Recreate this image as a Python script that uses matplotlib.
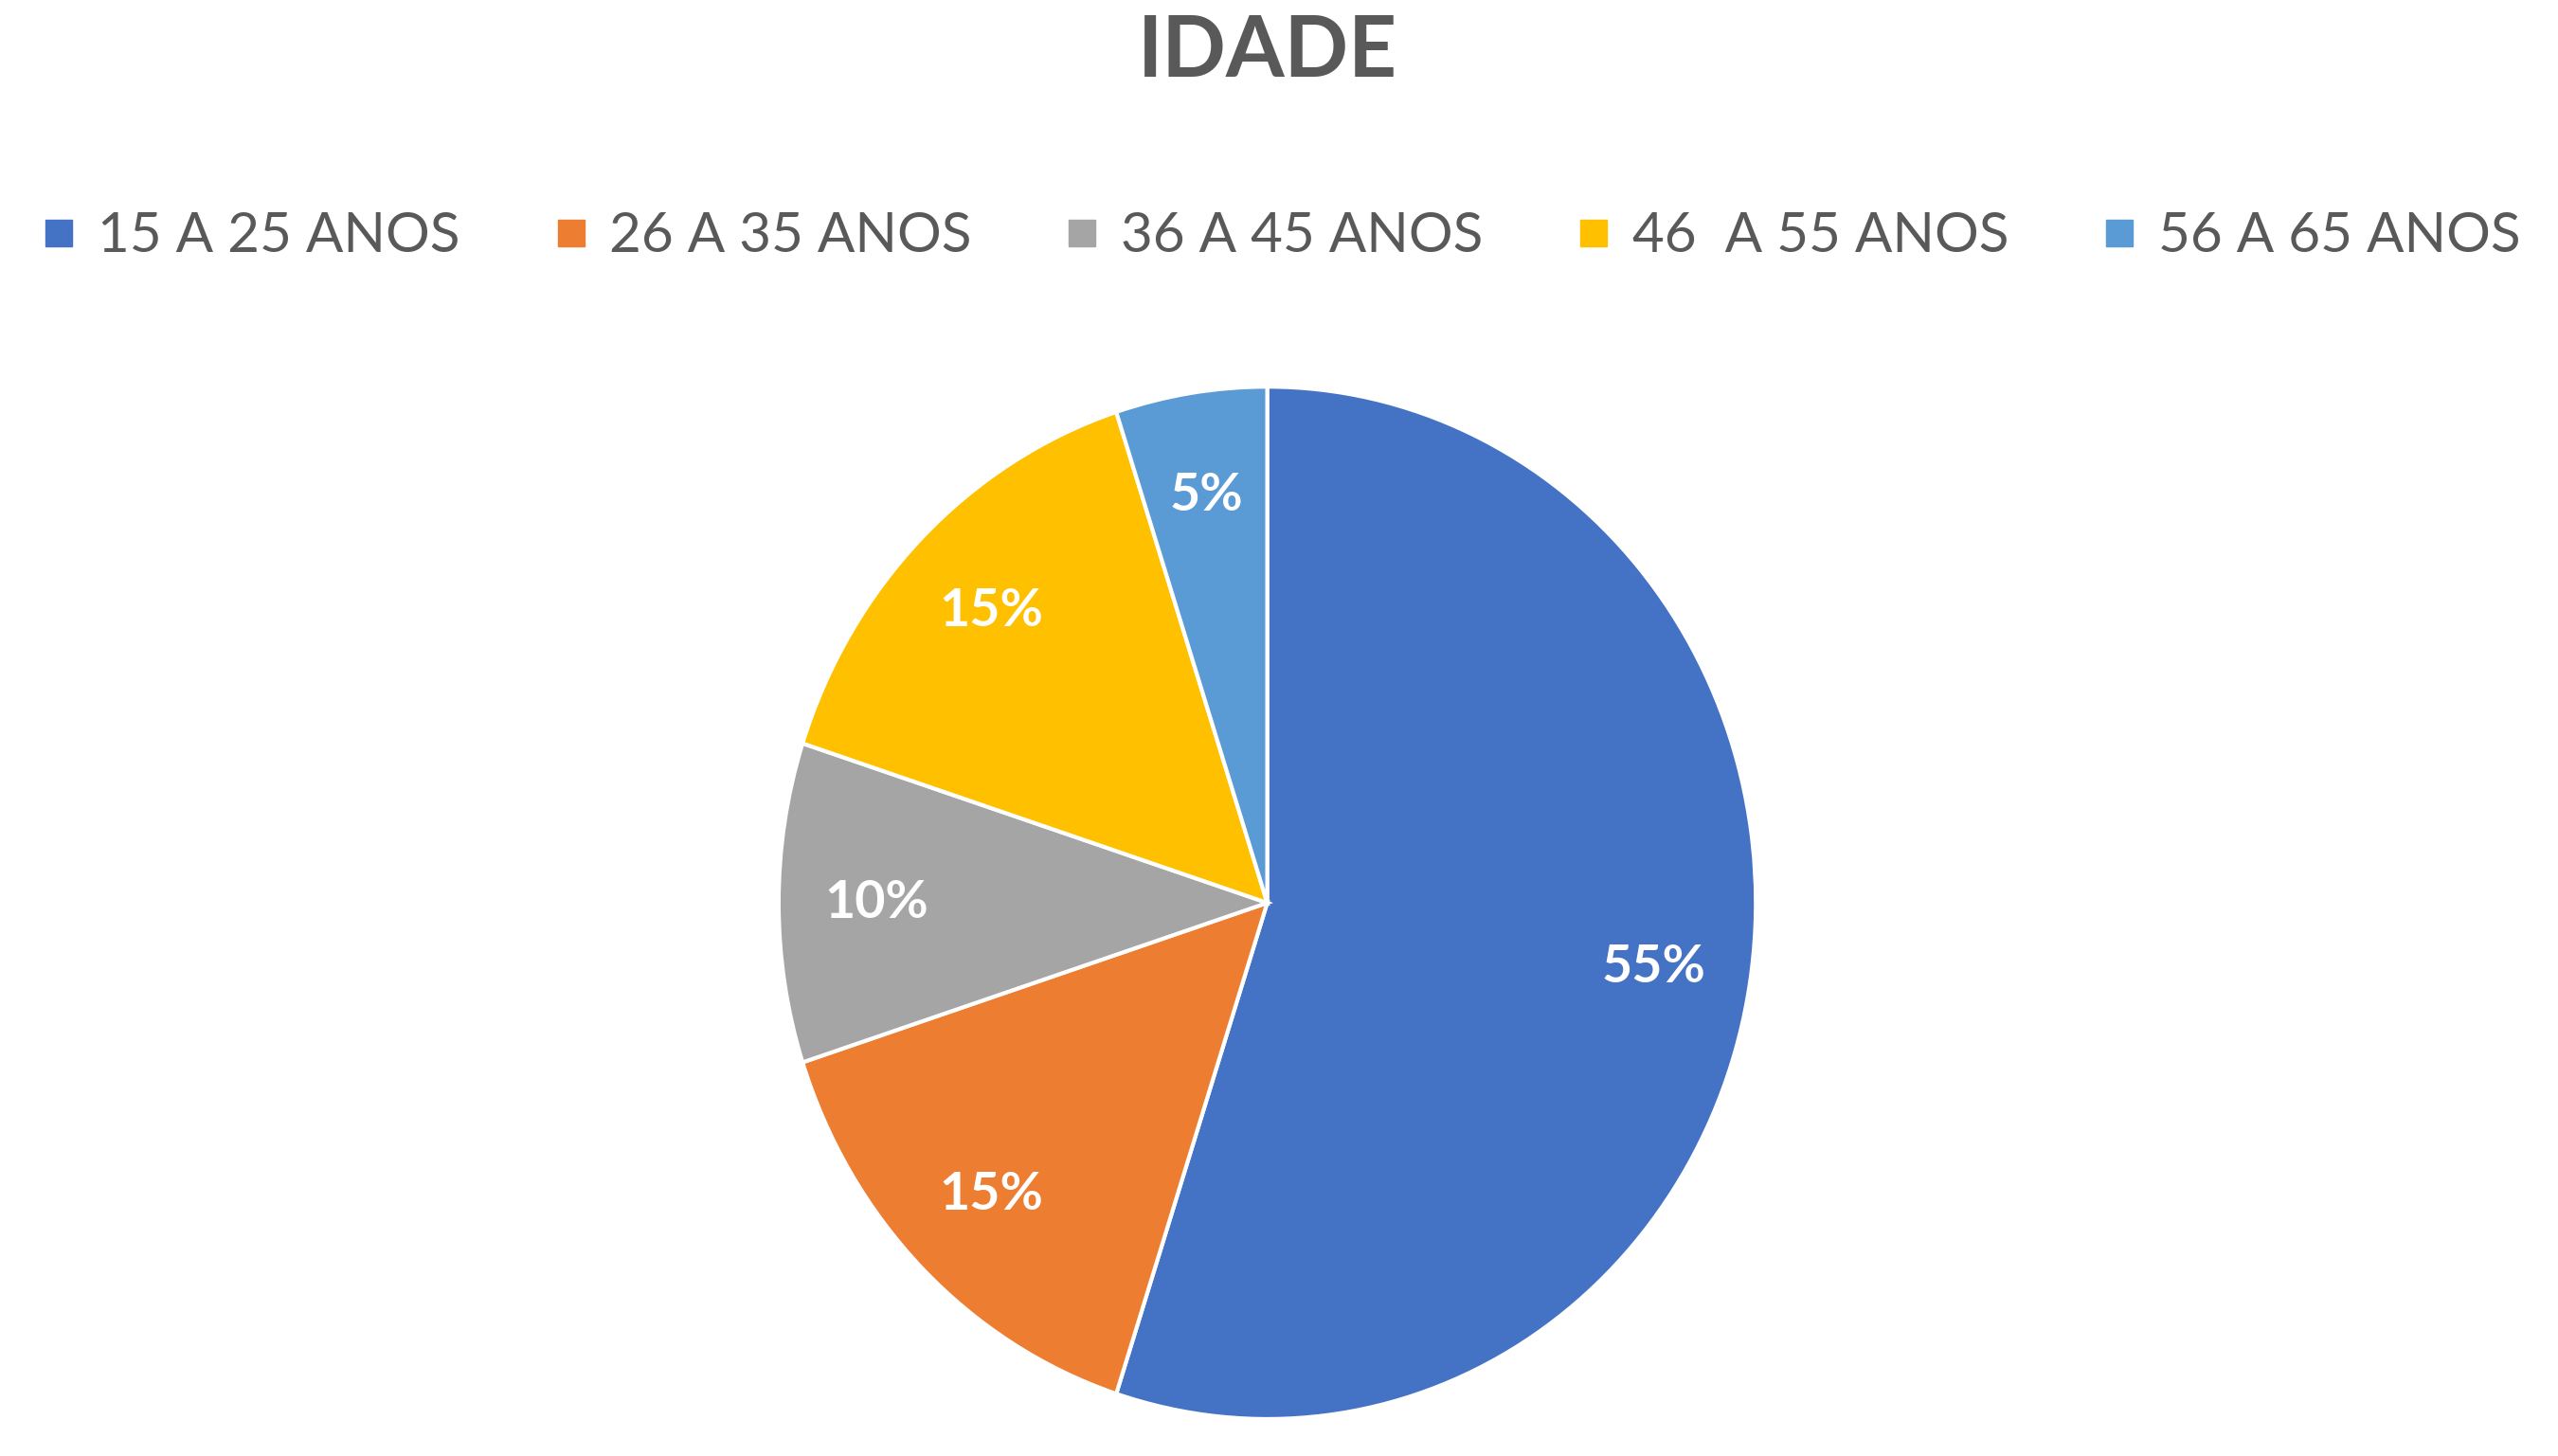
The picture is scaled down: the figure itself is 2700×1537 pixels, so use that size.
import matplotlib
matplotlib.use("Agg")
import matplotlib.pyplot as plt
from matplotlib.lines import Line2D

title = "IDADE"
categories = ["15 A 25 ANOS", "26 A 35 ANOS", "36 A 45 ANOS", "46  A 55 ANOS", "56 A 65 ANOS"]
values = [55, 15, 10, 15, 5]
colors = ["#4472C4", "#ED7D31", "#A5A5A5", "#FFC000", "#5B9BD5"]

plt.rcParams['font.family'] = ['Lato', 'DejaVu Sans']

fig = plt.figure(figsize=(27, 15.37), dpi=100)
fig.patch.set_facecolor("white")

ax = fig.add_axes([0.3044, 0.0254, 0.382, 0.709])
wedges, texts, autotexts = ax.pie(
    values, colors=colors, startangle=90, counterclock=False,
    autopct=lambda p: f"{p:.0f}%", pctdistance=0.8,
    wedgeprops=dict(edgecolor="white", linewidth=3),
    textprops=dict(color="white", fontsize=40, fontweight="bold"))
ax.set_aspect('auto')
ax.set_xlim(-1, 1)
ax.set_ylim(-1, 1)

fig.text(0.4956, 1 - 55 / 1537, title, ha="center", va="center",
         fontsize=64, fontweight="bold", color="#595959")

handles = [Line2D([], [], marker="s", linestyle="none", markersize=20,
                  markerfacecolor=c, markeredgecolor=c) for c in colors]
fig.legend(handles, categories, loc="center", bbox_to_anchor=(0.5, 1 - 250 / 1537),
           ncol=5, frameon=False, fontsize=42, labelcolor="#595959",
           handletextpad=0.3, columnspacing=1.6, handlelength=0.8)

fig.savefig("out.png", dpi=100, facecolor="white")
